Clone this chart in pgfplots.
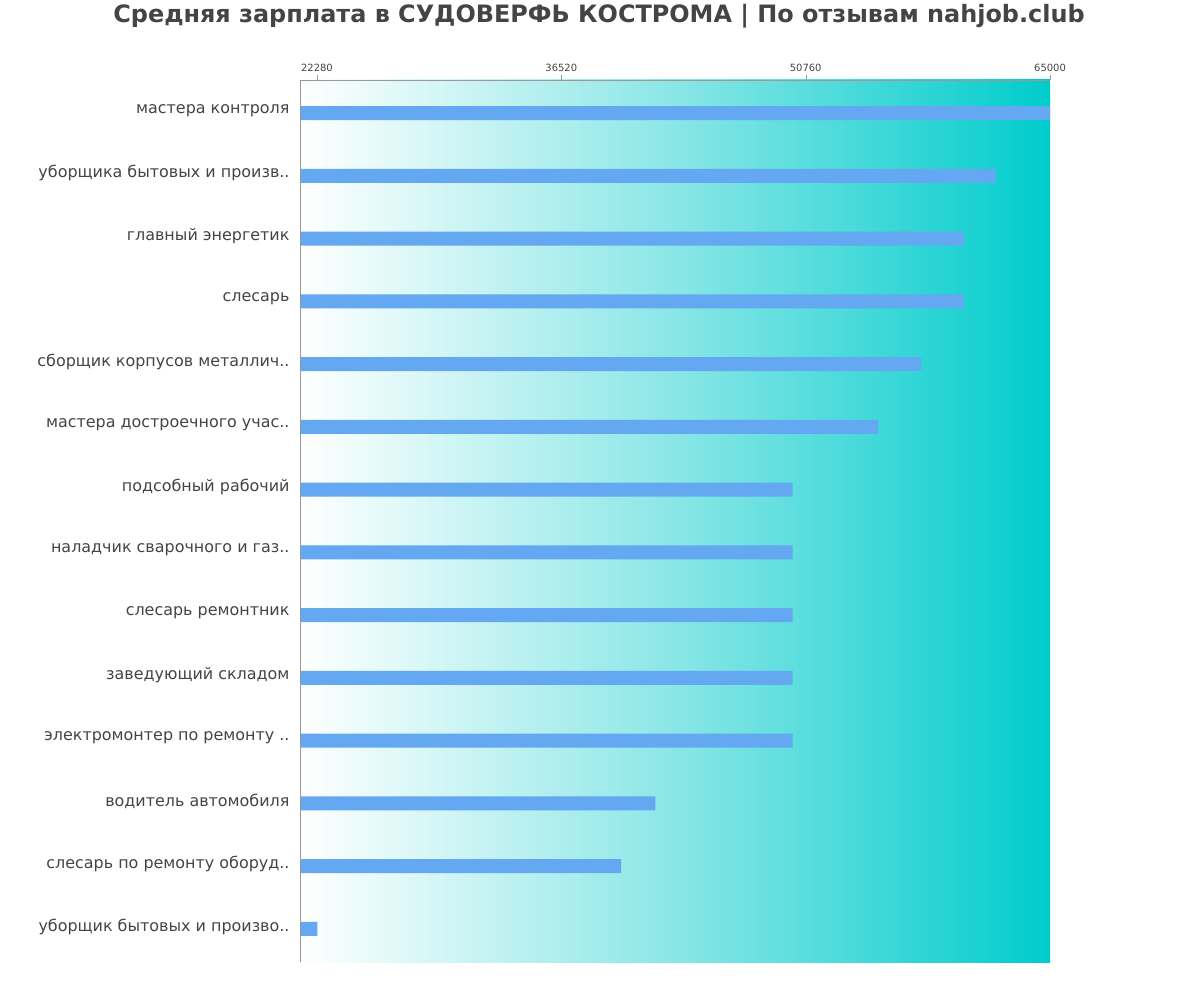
\documentclass[border=0pt]{standalone}
\usepackage{pgfplots}
\pgfplotsset{compat=1.18}
\usepackage{fontspec}
\setmainfont{DejaVu Sans}
\definecolor{barblue}{HTML}{63A8F0}
\definecolor{cyanend}{HTML}{00CCCC}
\definecolor{cyanmid}{HTML}{8AE6E6}
\definecolor{txt}{HTML}{444444}
\definecolor{axgray}{HTML}{999999}
\begin{document}
\begin{tikzpicture}[x=1bp,y=1bp]
\path[use as bounding box] (0,0) rectangle (1200,1000);
\node[font=\bfseries\fontsize{24}{28}\selectfont, text=txt] at (599,984) {Средняя зарплата в СУДОВЕРФЬ КОСТРОМА | По отзывам nahjob.club};
\begin{axis}[
  at={(300bp,38bp)}, anchor=south west, scale only axis,
  width=750bp, height=882bp,
  xmin=21290, xmax=65000, ymin=-0.526, ymax=13.526, y dir=reverse,
  axis x line*=top, axis y line*=left,
  axis line style={color=axgray},
  axis on top,
  scaled x ticks=false,
  xtick={22280,36520,50760,65000},
  xticklabels={22280,36520,50760,65000},
  xtick style={color=axgray},
  tick align=outside,
  major tick length=5bp,
  xticklabel style={font=\fontsize{10}{12}\selectfont, text=txt},
  /pgf/number format/assume math mode=true,
  ytick={0,...,13},
  yticklabels={мастера контроля,уборщика бытовых и произв..,главный энергетик,слесарь,сборщик корпусов металлич..,мастера достроечного учас..,подсобный рабочий,наладчик сварочного и газ..,слесарь ремонтник,заведующий складом,электромонтер по ремонту ..,водитель автомобиля,слесарь по ремонту оборуд..,уборщик бытовых и произво..},
  ytick style={draw=none},
  yticklabel style={font=\fontsize{16}{19}\selectfont, text=txt, xshift=-2bp, yshift=2.5bp},
]
\fill[left color=white, right color=cyanend, middle color=cyanmid] (rel axis cs:0,0) rectangle (rel axis cs:1,1);
\addplot[xbar, bar width=14bp, fill=barblue, draw=none] coordinates {
(65000,0) (61850,1) (60000,2) (60000,3) (57500,4) (55000,5) (50000,6) (50000,7) (50000,8) (50000,9) (50000,10) (42000,11) (40000,12) (22300,13)};
\end{axis}
\end{tikzpicture}
\end{document}
